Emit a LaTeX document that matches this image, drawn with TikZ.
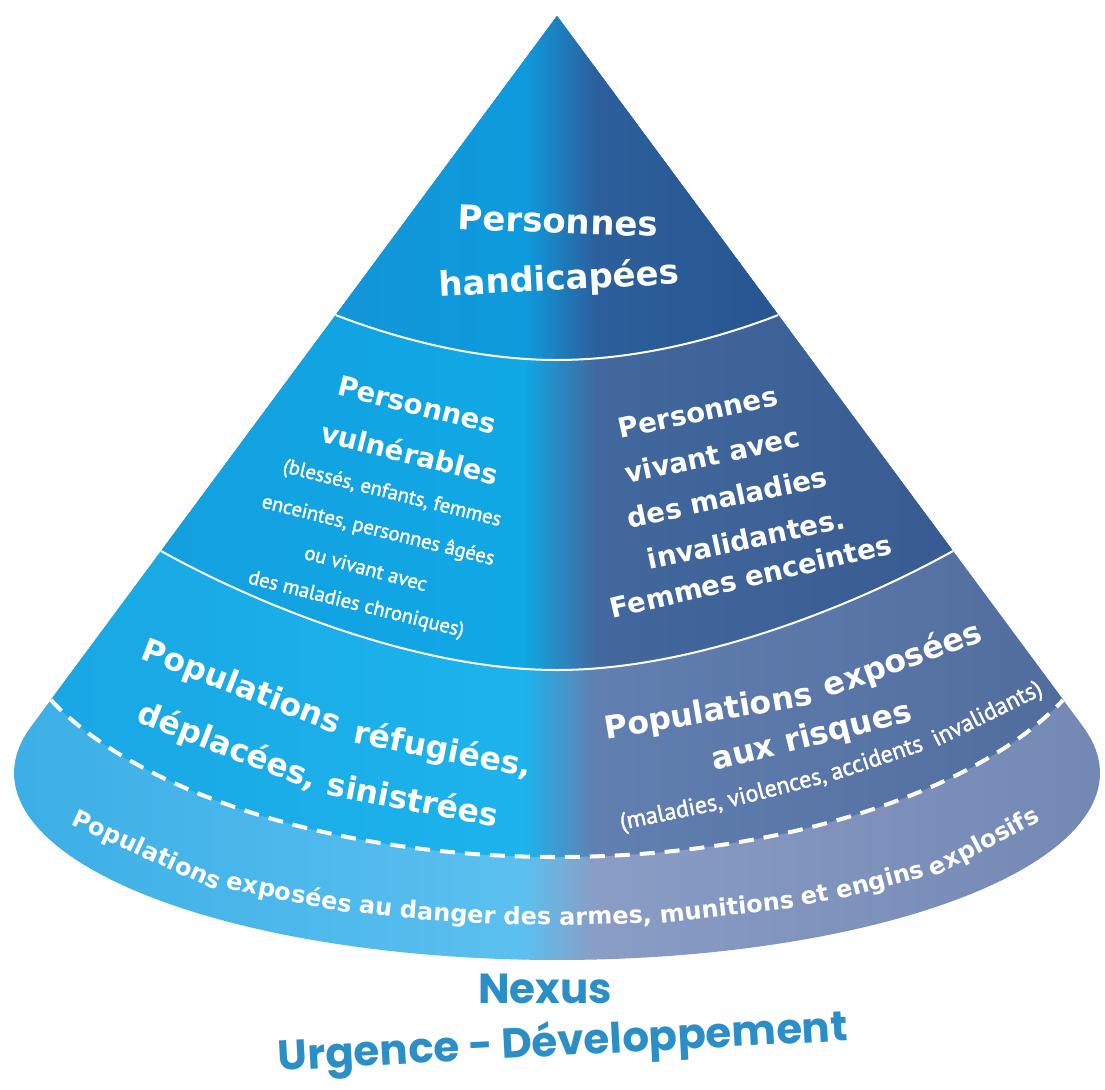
\documentclass[tikz,border=0pt]{standalone}
\usepackage{fontspec}
\setmainfont{DejaVu Sans}
\newfontfamily\smallfam{PT Sans}[FakeBold=1.6]
\newfontfamily\titlefam{Poppins}
\usetikzlibrary{decorations.markings}
\definecolor{tAL}{HTML}{1A8BD0}
\definecolor{tAM}{HTML}{0E9BDD}
\definecolor{tAR}{HTML}{2C5F9C}
\definecolor{tAE}{HTML}{1D4678}
\definecolor{tBL}{HTML}{169CDC}
\definecolor{tBM}{HTML}{10A8E5}
\definecolor{tBR}{HTML}{42689E}
\definecolor{tBE}{HTML}{33568A}
\definecolor{tCL}{HTML}{18A6E3}
\definecolor{tCM}{HTML}{1DB3EC}
\definecolor{tCR}{HTML}{627FB1}
\definecolor{tCE}{HTML}{4F6B9C}
\definecolor{tDL}{HTML}{3AAEE6}
\definecolor{tDM}{HTML}{5BC0EF}
\definecolor{tDR}{HTML}{8A9DC5}
\definecolor{tDE}{HTML}{7287B3}
\definecolor{titleblue}{HTML}{2B8EC6}
\newcommand{\fBig}{\fontsize{34}{40}\selectfont\bfseries}
\newcommand{\fMid}{\fontsize{27.5}{32}\selectfont\bfseries}
\newcommand{\fLow}{\fontsize{31.5}{36}\selectfont\bfseries}
\newcommand{\fSmall}{\smallfam\fontsize{20.5}{24}\selectfont}
\newcommand{\fSmallR}{\smallfam\fontsize{24}{28}\selectfont}
\newcommand{\fBand}{\fontsize{24}{26}\selectfont\bfseries}
\newcommand{\fTitle}{\titlefam\fontsize{42}{48}\selectfont\bfseries}
\newcommand{\tierfill}[4]{%
  \shade[left color=#1, right color=#2] (-10,-10) rectangle (525,1000);
  \shade[left color=#2, right color=#3] (524,-10) rectangle (596,1000);
  \shade[left color=#3, right color=#4] (595,-10) rectangle (1115,1000);
}
\def\conepath{(557,16) -- plot[domain=0:208.6, samples=120] ({557+543*cos(194.3-\x)},{773+187*sin(194.3-\x)}) -- cycle}
\def\curveA{(335.7,315) .. controls (400,340) and (480,360) .. (557,360) .. controls (634,360) and (714,340) .. (778.3,315)}
\def\curveB{(161,551) .. controls (262,607) and (420,670) .. (557,670) .. controls (694,670) and (852,607) .. (953,551)}
\def\curveC{(51,700) .. controls (135,790) and (330,857) .. (557,857) .. controls (784,857) and (979,790) .. (1063,700)}
\def\aboveA{(-20,-20) -- (1130,-20) -- (1130,315) -- (778.3,315) .. controls (714,340) and (634,360) .. (557,360) .. controls (480,360) and (400,340) .. (335.7,315) -- (-20,315) -- cycle}
\def\aboveB{(-20,-20) -- (1130,-20) -- (1130,551) -- (953,551) .. controls (852,607) and (694,670) .. (557,670) .. controls (420,670) and (262,607) .. (161,551) -- (-20,551) -- cycle}
\def\aboveC{(-20,-20) -- (1130,-20) -- (1130,700) -- (1063,700) .. controls (979,790) and (784,857) .. (557,857) .. controls (330,857) and (135,790) .. (51,700) -- (-20,700) -- cycle}
\tikzset{lbl/.style={text=white, inner sep=0pt},
  lowword/.style={text=white, font=\fLow, anchor=base, inner sep=0pt},
  bandword/.style={text=white, font=\fBand, transform shape, anchor=base, inner sep=0pt},
  parword/.style={text=white, font=\fSmallR, transform shape, anchor=mid, inner sep=0pt}}
\begin{document}
\begin{tikzpicture}[x=1pt,y=-1pt]
\useasboundingbox (0,0) rectangle (1105,1089);
\begin{scope}
  \clip \conepath;
  \tierfill{tDL}{tDM}{tDR}{tDE}
  \begin{scope}\clip \aboveC; \tierfill{tCL}{tCM}{tCR}{tCE}\end{scope}
  \begin{scope}\clip \aboveB; \tierfill{tBL}{tBM}{tBR}{tBE}\end{scope}
  \begin{scope}\clip \aboveA; \tierfill{tAL}{tAM}{tAR}{tAE}\end{scope}
  \draw[white, line width=2pt] \curveA;
  \draw[white, line width=2pt] \curveB;
  \draw[white, line width=4pt, dash pattern=on 15pt off 10pt] \curveC;
\end{scope}
% top tier
\node[lbl, font=\fBig, rotate=-2] (ph1) at (558,221) {Personnes};
\node[lbl, font=\fBig, rotate=3] (ph2) at (559,280) {handicapées};
% middle left
\node[lbl, font=\fMid, rotate=-14] (lv1) at (417,405) {Personnes};
\node[lbl, font=\fMid, rotate=-14] (lv2) at (410,453) {vulnérables};
\node[lbl, font=\fSmall, rotate=-14] (lv3) at (392,494) {(blessés, enfants, femmes};
\node[lbl, font=\fSmall, rotate=-14] (lv4) at (378,531) {enceintes, personnes âgées};
\node[lbl, font=\fSmall, rotate=-15] (lv5) at (366,568) {ou vivant avec};
\node[lbl, font=\fSmall, rotate=-14] (lv6) at (356,605) {des maladies chroniques)};
% middle right
\node[lbl, font=\fMid, rotate=12] (rv1) at (698,412) {Personnes};
\node[lbl, font=\fMid, rotate=12] (rv2) at (712,455) {vivant avec};
\node[lbl, font=\fMid, rotate=12] (rv3) at (727,497) {des maladies};
\node[lbl, font=\fMid, rotate=12] (rv4) at (746,539) {invalidantes.};
\node[lbl, font=\fMid, rotate=13] (rv5) at (751,576) {Femmes enceintes};
% lower left
\node[lowword, rotate=-21] (ll1) at (238,696) {Populations};
\node[lowword, rotate=-11] (ll2) at (441,760) {réfugiées,};
\node[lowword, rotate=-21] (ll3) at (224,756) {déplacées,};
\node[lowword, rotate=-11] (ll4) at (411,811) {sinistrées};
% lower right
\node[lowword, rotate=9.5] (lr1) at (710,722) {Populations};
\node[lowword, rotate=20] (lr2) at (906,669) {exposées};
\node[lowword, rotate=14] (lr3) at (814,746) {aux risques};
\path[postaction={decorate}, decoration={markings,
  mark=at position 53pt with {\node[parword] (pw1) {(maladies,};},
  mark=at position 162pt with {\node[parword] (pw2) {violences,};},
  mark=at position 266pt with {\node[parword] (pw3) {accidents};},
  mark=at position 386pt with {\node[parword] (pw4) {invalidants)};}}]
  (620,827) .. controls (760,800) and (930,760) .. (1042,688);
% bottom band text, word by word along the arc
\path[postaction={decorate}, decoration={markings,
  mark=at position 122pt with {\node[bandword] (bw1) {Populations};},
  mark=at position 273pt with {\node[bandword] (bw2) {exposées};},
  mark=at position 361pt with {\node[bandword] (bw3) {au};},
  mark=at position 433.6pt with {\node[bandword] (bw4) {danger};},
  mark=at position 513.7pt with {\node[bandword] (bw5) {des};},
  mark=at position 592.3pt with {\node[bandword] (bw6) {armes,};},
  mark=at position 714.5pt with {\node[bandword] (bw7) {munitions};},
  mark=at position 804.2pt with {\node[bandword] (bw8) {et};},
  mark=at position 871.5pt with {\node[bandword] (bw9) {engins};},
  mark=at position 984pt with {\node[bandword] (bw10) {explosifs};}}]
  plot[domain=0:180, samples=100, smooth] ({557+495*cos(180-\x)},{775+150*sin(180-\x)});
% title
\node[font=\fTitle, text=titleblue, inner sep=0pt] (nx) at (545,989) {Nexus};
\node[font=\fTitle, text=titleblue, inner sep=0pt, rotate=3] (ud) at (563,1044) {Urgence - Développement};
\end{tikzpicture}
\end{document}
